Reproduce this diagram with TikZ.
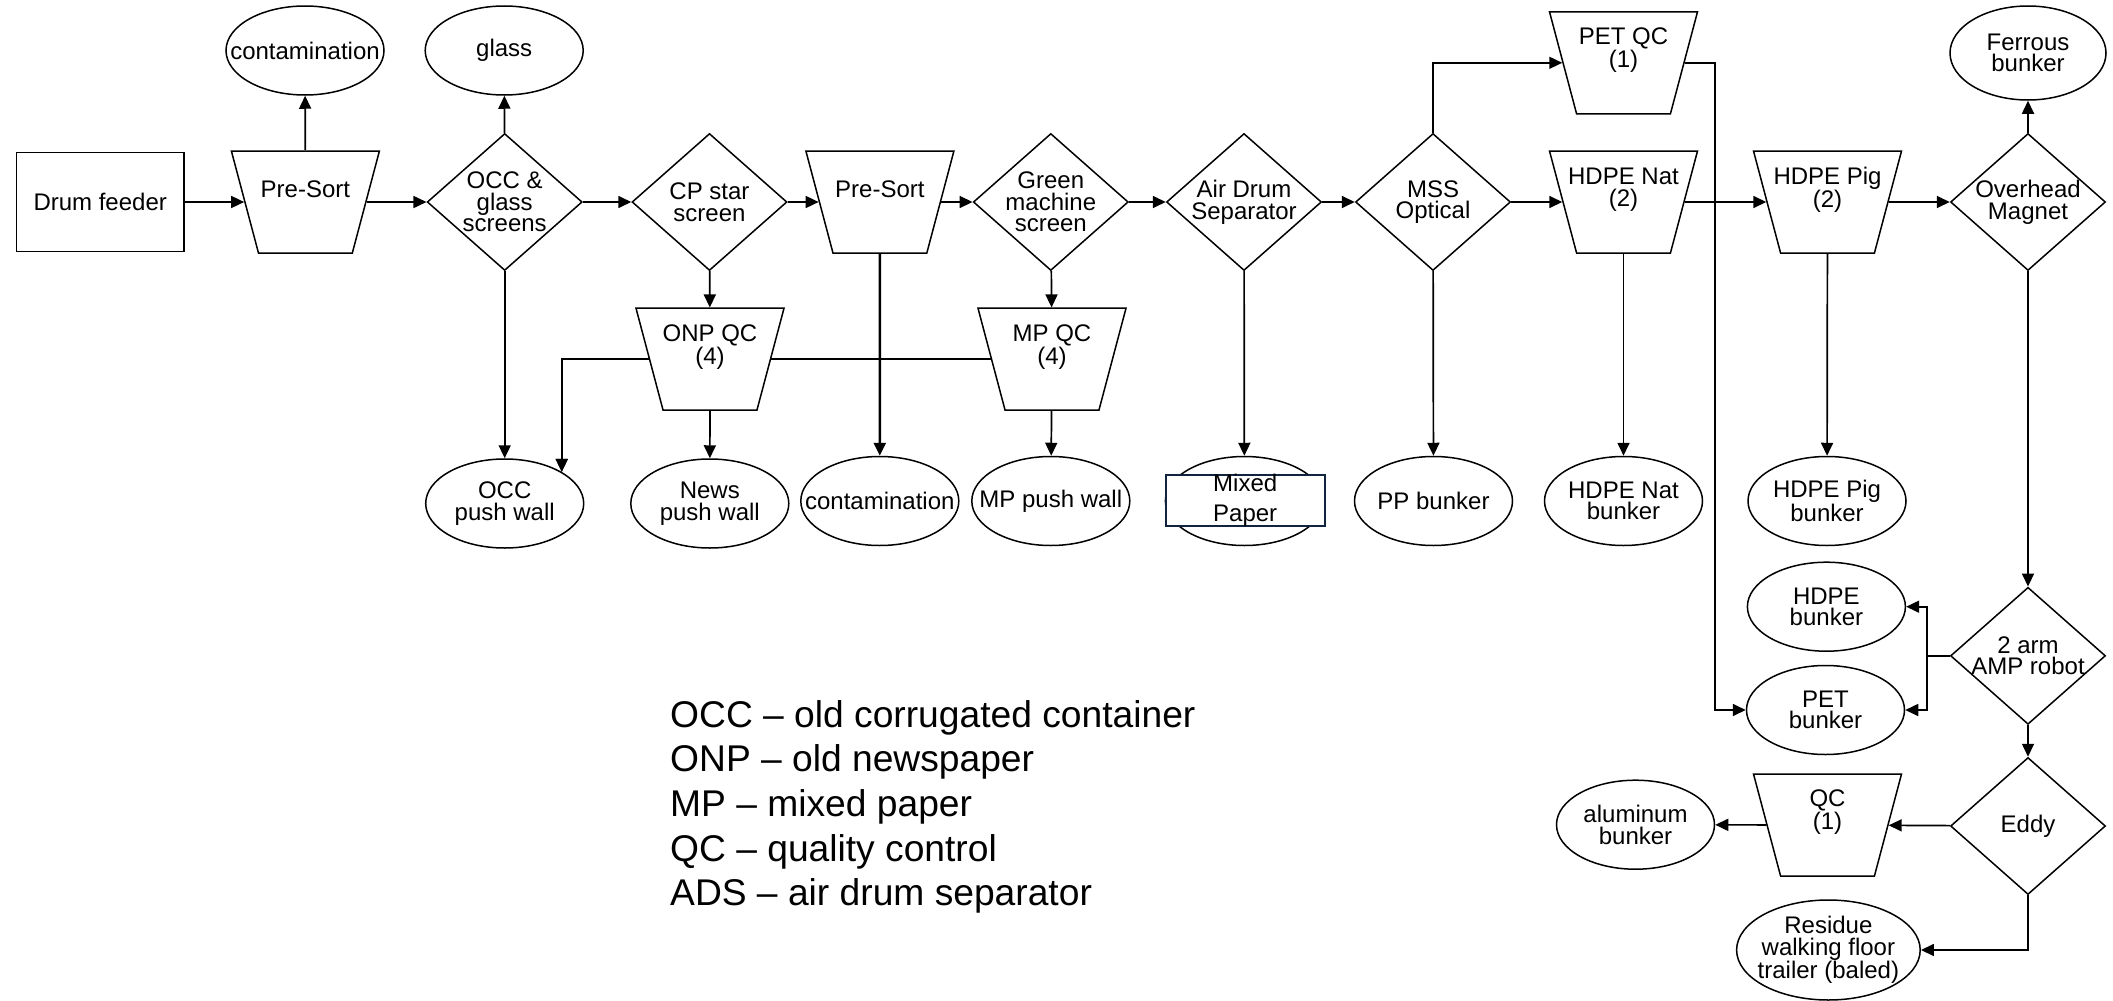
\documentclass[tikz,border=0pt]{standalone}
\usepackage{fontspec}
\setmainfont{Liberation Sans}
\usetikzlibrary{shapes.geometric,arrows.meta,backgrounds}
\definecolor{navybox}{HTML}{10233F}
\begin{document}
\begin{tikzpicture}[x=1pt,y=-1pt,
  base/.style={draw=black, line width=1.5pt, fill=white, inner sep=0pt},
  lab/.style={font=\fontsize{24}{21.6}\selectfont, align=center, inner sep=0pt, text=black},
  boxn/.style={base, rectangle, minimum width=167.5pt, minimum height=99.4pt},
  trap/.style={base, inner sep=2pt, trapezium, trapezium left angle=73.9, trapezium right angle=73.9,
    shape border rotate=180, trapezium stretches=true, minimum width=148pt, minimum height=102pt},
  dia/.style={base, diamond, minimum width=155pt, minimum height=137pt},
  ell/.style={base, ellipse, minimum width=158pt, minimum height=89pt},
  conn/.style={line width=1.7pt, draw=black},
  arr/.style={conn, -{Triangle[length=13pt,width=12pt]}},
  leg/.style={font=\fontsize{37.2}{44.6}\selectfont, inner sep=0pt, anchor=base west, text=black},
  mixbox/.style={draw=navybox, line width=2pt, fill=white, inner sep=0pt,
    minimum width=158.8pt, minimum height=51.7pt, font=\fontsize{24}{29.3}\selectfont, align=center}
]
\useasboundingbox (0,0) rectangle (2113,1001);

% ---- main row ----
\node[boxn, label={[lab]center:{Drum feeder}}] (drum) at (100.2,202) {};
\node[trap, label={[lab,yshift=12.5pt]center:{Pre-Sort}}] (ps1) at (305.4,202) {};
\node[dia, label={[lab]center:{OCC \&\\glass\\screens}}] (occ) at (504.7,202) {};
\node[dia, label={[lab]center:{CP star\\screen}}] (cp) at (709.5,202) {};
\node[trap, label={[lab,yshift=12.5pt]center:{Pre-Sort}}] (ps2) at (879.9,202) {};
\node[dia, label={[lab]center:{Green\\machine\\screen}}] (green) at (1050.8,202) {};
\node[dia, label={[lab]center:{Air Drum\\Separator}}] (ads) at (1244,202) {};
\node[dia, label={[lab]center:{MSS\\Optical}}] (mss) at (1433,202) {};
\node[trap, label={[lab,yshift=12.5pt]center:{HDPE Nat\\(2)}}] (hnat) at (1623.5,202) {};
\node[trap, label={[lab,yshift=12.5pt]center:{HDPE Pig\\(2)}}] (hpig) at (1827.5,202) {};
\node[dia, label={[lab]center:{Overhead\\Magnet}}] (mag) at (2028,202) {};

% ---- top row ----
\node[ell, label={[lab]center:{contamination}}] (cont1) at (305,50.5) {};
\node[ell, label={[lab]center:{glass}}] (glass) at (504.2,50.5) {};
\node[trap, label={[lab,yshift=12.5pt]center:{PET QC\\(1)}}] (petqc) at (1623.5,62.8) {};
\node[ell, minimum width=156pt, minimum height=94pt, label={[lab]center:{Ferrous\\bunker}}] (ferrous) at (2028,53) {};

% ---- QC row ----
\node[trap, label={[lab,yshift=12.5pt]center:{ONP QC\\(4)}}] (onp) at (710,359.2) {};
\node[trap, label={[lab,yshift=12.5pt]center:{MP QC\\(4)}}] (mpqc) at (1052,359.2) {};

% ---- bottom row ----
\node[ell, label={[lab]center:{OCC\\push wall}}] (occpw) at (504.7,503.5) {};
\node[ell, label={[lab]center:{News\\push wall}}] (newspw) at (709.8,503.5) {};
\node[ell, label={[lab]center:{contamination}}] (cont2) at (879.8,501) {};
\node[ell, label={[lab]center:{MP push wall}}] (mppw) at (1050.8,501) {};
\node[ell] (mixed) at (1244.4,501) {};
\node[mixbox] (mixedbox) at (1245.2,500.4) {Mixed\\Paper};
\node[ell, label={[lab]center:{PP bunker}}] (ppb) at (1433.5,501) {};
\node[ell, label={[lab]center:{HDPE Nat\\bunker}}] (hnatb) at (1623.5,501) {};
\node[ell, label={[lab]center:{HDPE Pig\\bunker}}] (hpigb) at (1827,501) {};

% ---- right column ----
\node[ell, label={[lab]center:{HDPE\\bunker}}] (hdpeb) at (1826.4,606.7) {};
\node[ell, label={[lab]center:{PET\\bunker}}] (petb) at (1825.5,710) {};
\node[dia, label={[lab]center:{2 arm\\AMP robot}}] (robot) at (2028,655.8) {};
\node[dia, label={[lab]center:{Eddy}}] (eddy) at (2028,826) {};
\node[trap, label={[lab,yshift=12.5pt]center:{QC\\(1)}}] (qc) at (1827.5,825) {};
\node[ell, label={[lab]center:{aluminum\\bunker}}] (alum) at (1635.5,824.7) {};
\node[ell, minimum width=183.6pt, minimum height=100pt, label={[lab]center:{Residue\\walking floor\\trailer (baled)}}] (residue) at (1828.4,950) {};

% ---- legend ----
\node[leg] (leg1) at (670,727.3) {OCC – old corrugated container};
\node[leg] (leg2) at (670,771.9) {ONP – old newspaper};
\node[leg] (leg3) at (670,816.5) {MP – mixed paper};
\node[leg] (leg4) at (670,861.1) {QC – quality control};
\node[leg] (leg5) at (670,905.7) {ADS – air drum separator};

\coordinate (pq) at (1715,710);
\coordinate (rj) at (1927.3,655.8);

\begin{pgfonlayer}{background}
\fill[white] (0,0) rectangle (2113,1001);
% main flow
\draw[arr] (drum) -- (ps1);
\draw[arr] (ps1) -- (cont1);
\draw[arr] (ps1) -- (occ);
\draw[arr] (occ) -- (glass);
\draw[arr] (occ) -- (cp);
\draw[arr] (occ) -- (occpw);
\draw[arr] (cp) -- (ps2);
\draw[arr] (cp) -- (onp);
\draw[arr] (ps2) -- (green);
\draw[arr, line width=2.4pt] (ps2) -- (cont2);
\draw[arr] (green) -- (ads);
\draw[arr] (green) -- (mpqc);
\draw[arr] (ads) -- (mss);
\draw[arr] (ads) -- (mixed);
\draw[arr] (mss) -- (hnat);
\draw[arr] (mss) |- (petqc);
\draw[arr] (mss) -- (ppb);
\draw[arr] (hnat) -- (hpig);
\draw[arr] (hnat) -- (hnatb);
\draw[arr] (hpig) -- (mag);
\draw[arr] (hpig) -- (hpigb);
\draw[arr] (mag) -- (ferrous);
\draw[arr] (mag) -- (robot);
% QC outputs
\draw[arr] (onp) -- (newspw);
\draw[arr] (mpqc) -- (mppw);
\draw[arr] (mpqc) -| (occpw.29);
\draw[arr] (onp) -| (occpw.29);
% PET QC to PET bunker
\draw[arr] (petqc) -| (pq) -- (petb);
% robot
\draw[conn] (robot) -- (rj);
\draw[arr] (rj) |- (hdpeb);
\draw[arr] (rj) |- (petb);
\draw[arr] (robot) -- (eddy);
% eddy
\draw[arr] (eddy) -- (qc);
\draw[arr] (qc) -- (alum);
\draw[arr] (eddy) |- (residue);
\end{pgfonlayer}
\end{tikzpicture}
\end{document}
